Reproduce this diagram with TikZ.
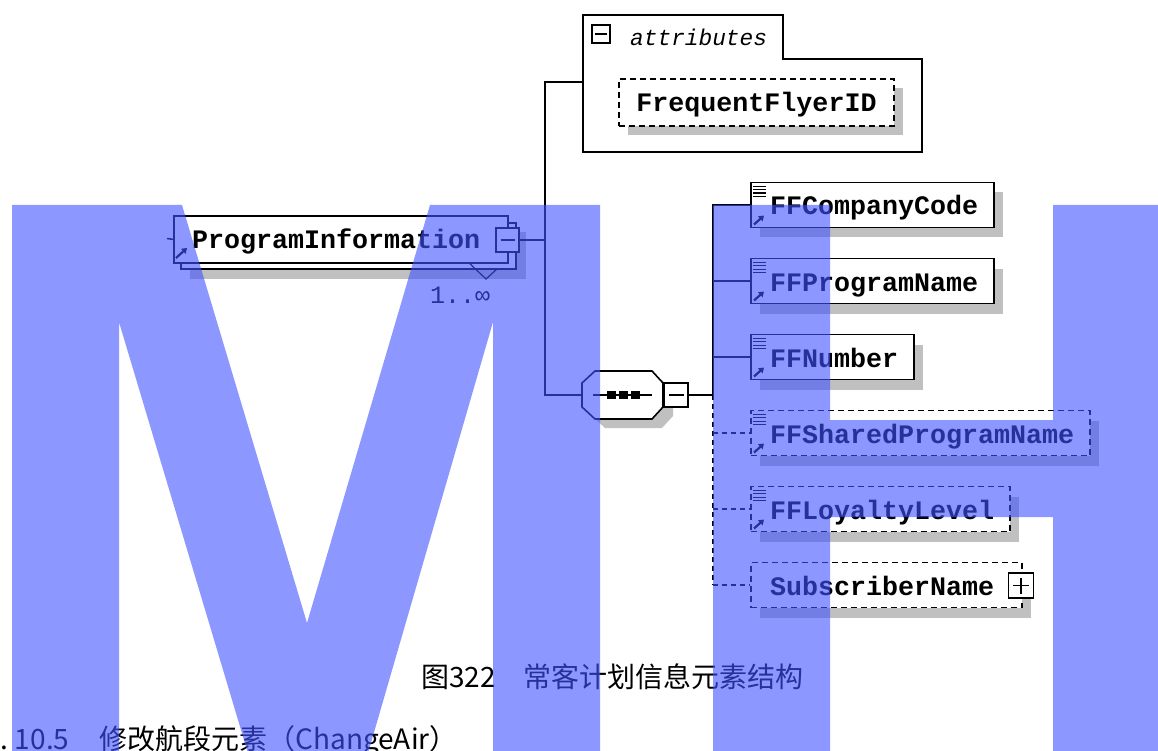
\documentclass[tikz,border=0pt]{standalone}
\usepackage{fontspec}
\usetikzlibrary{arrows.meta}
\newfontfamily\monofont{Liberation Mono}
\newfontfamily\cjkfont{Noto Sans CJK SC}
\definecolor{shadowgray}{RGB}{192,192,192}
\definecolor{wmblue}{RGB}{64,82,255}
\tikzset{
  ln/.style={draw=black, line width=1.5pt},
  dln/.style={ln, dash pattern=on 5pt off 4pt},
  elbox/.style={rectangle, draw=black, line width=1.7pt, fill=white, inner sep=0pt, minimum height=45pt},
  optbox/.style={elbox, dash pattern=on 6pt off 4pt},
  eltext/.style={anchor=base west, inner sep=0pt, font={\monofont\bfseries\fontsize{26.67pt}{30pt}\selectfont}},
  pmbox/.style={rectangle, draw=black, line width=1.6pt, fill=white, inner sep=0pt},
  icon/.style={line width=1.2pt, draw=black},
  refarrow/.style={line width=2.2pt, -{Triangle[length=5pt,width=6.5pt]}},
  cjktext/.style={anchor=base west, inner sep=0pt, font={\cjkfont\fontsize{28pt}{31pt}\selectfont}},
  wm/.style={fill=wmblue, fill opacity=0.6},
}
\newcommand{\elicons}[3]{%
  \foreach \dy in {4,7.3,10.6,14} {\draw[icon] (#1+3,#2+\dy) -- (#1+16,#2+\dy);}
  \draw[refarrow] (#1+4,#3-3) -- (#1+14,#3-12);
}
\begin{document}
\begin{tikzpicture}[x=1pt,y=-1pt]
\useasboundingbox (0,0) rectangle (1158,751);
\fill[white] (0,0) rectangle (1158,751);

% ---------- ProgramInformation ----------
\fill[shadowgray] (190,232) rectangle (526,279);
\draw[elbox] (181,223) rectangle (516,269);
\draw[line width=1.2pt] (468,262) -- (486,279) -- (497,269);
\node[elbox, minimum width=334pt, minimum height=47pt, anchor=north west] (pi) at (173,215) {};
\node[pmbox, minimum width=23pt, minimum height=24pt] (pim) at (507.5,240) {};
\draw[ln] ([xshift=-7pt]pim.center) -- ([xshift=7pt]pim.center);
\coordinate (pistub) at (167,238.5);
\draw[ln] (pistub) -- (pi.west);
\draw[refarrow] (176,258) -- (187,248);
\node[eltext] (pit) at (192,248.5) {ProgramInformation};
\node[anchor=base west, inner sep=0pt, font={\monofont\fontsize{25pt}{28pt}\selectfont}] (occ) at (430,303) {1..∞};

% ---------- attributes ----------
\draw[ln, line width=1.7pt] (583,15) -- (783,15) -- (783,59) -- (922,59) -- (922,152) -- (583,152) -- cycle;
\coordinate (attrL) at (583,82);
\node[pmbox, minimum width=18pt, minimum height=18pt] (attm) at (601,34) {};
\draw[ln] ([xshift=-6pt]attm.center) -- ([xshift=6pt]attm.center);
\node[anchor=base west, inner sep=0pt, font={\monofont\itshape\fontsize{22.8pt}{26pt}\selectfont}] (attt) at (630,46) {attributes};
\fill[shadowgray] (628,88) rectangle (903,135);
\node[optbox, minimum width=275pt, minimum height=47pt, anchor=north west] (ffid) at (618,78) {};
\node[eltext, anchor=base] (ffidt) at (756.5,112) {FrequentFlyerID};

% ---------- sequence compositor ----------
\fill[shadowgray] (592,392) -- (605,380) -- (662,380) -- (673,392) -- (673,416) -- (662,428) -- (605,428) -- (592,416) -- cycle;
\draw[ln, line width=1.6pt, fill=white] (582,383) -- (595,371) -- (652,371) -- (663,383) -- (663,407) -- (652,419) -- (595,419) -- (582,407) -- cycle;
\coordinate (seqL) at (582,395);
\draw[line width=1.4pt] (593,395) -- (652,395);
\fill[black] (607,391) rectangle (616,399);
\fill[black] (619,391) rectangle (628,399);
\fill[black] (631,391) rectangle (640,399);
\node[pmbox, minimum width=24pt, minimum height=24pt] (seqm) at (676,395) {};
\draw[ln] ([xshift=-7.5pt]seqm.center) -- ([xshift=7.5pt]seqm.center);

% ---------- connectors left ----------
\coordinate (j0) at (545,82);
\coordinate (j1) at (545,240);
\coordinate (j2) at (545,395);
\draw[ln] (pim.east) -- (j1);
\draw[ln] (attrL) -- (j0) -- (j2) -- (seqL);

% ---------- children ----------
\fill[shadowgray] (760,192.5) rectangle (1003,237.5);
\node[elbox, minimum width=243pt, anchor=west] (e1) at (750,205) {};
\elicons{750}{182.5}{227.5}
\node[eltext] (e1t) at (770,215) {FFCompanyCode};

\fill[shadowgray] (760,268.5) rectangle (1003,313.5);
\node[elbox, minimum width=243pt, anchor=west] (e2) at (750,281) {};
\elicons{750}{258.5}{303.5}
\node[eltext] (e2t) at (770,291) {FFProgramName};

\fill[shadowgray] (760,344.5) rectangle (923,389.5);
\node[elbox, minimum width=163pt, anchor=west] (e3) at (750,357) {};
\elicons{750}{334.5}{379.5}
\node[eltext] (e3t) at (770,367) {FFNumber};

\fill[shadowgray] (760,420.5) rectangle (1099,465.5);
\node[optbox, minimum width=339pt, anchor=west] (e4) at (750,433) {};
\elicons{750}{410.5}{455.5}
\node[eltext] (e4t) at (770,443) {FFSharedProgramName};

\fill[shadowgray] (760,496.5) rectangle (1019,541.5);
\node[optbox, minimum width=259pt, anchor=west] (e5) at (750,509) {};
\elicons{750}{486.5}{531.5}
\node[eltext] (e5t) at (770,519) {FFLoyaltyLevel};

\fill[shadowgray] (760,572.5) rectangle (1031,617.5);
\node[optbox, minimum width=271pt, anchor=west] (e6) at (750,585) {};
\node[eltext] (e6t) at (770,595) {SubscriberName};
\node[pmbox, minimum width=25pt, minimum height=25pt] (e6p) at (1021,585.5) {};
\draw[ln] ([xshift=-8pt]e6p.center) -- ([xshift=8pt]e6p.center);
\draw[ln] ([yshift=-8pt]e6p.center) -- ([yshift=8pt]e6p.center);

% ---------- bus ----------
\coordinate (bm) at (713,395);
\coordinate (b1) at (713,205);
\coordinate (b2) at (713,281);
\coordinate (b3) at (713,357);
\coordinate (b4) at (713,433);
\coordinate (b5) at (713,509);
\coordinate (b6) at (713,585);
\draw[ln] (seqm.east) -- (bm);
\draw[ln] (e1.west) -- (b1) -- (bm);
\draw[dln] (bm) -- (b6);
\draw[ln] (b2) -- (e2.west);
\draw[ln] (b3) -- (e3.west);
\draw[dln] (b4) -- (e4.west);
\draw[dln] (b5) -- (e5.west);
\draw[dln] (b6) -- (e6.west);

% ---------- captions ----------
\node[cjktext] (cap) at (421,687) {图322　常客计划信息元素结构};
\node[cjktext] (sec) at (0,749) {.\hspace{7pt}10.5\hspace{2pt}　修改航段元素（ChangeAir）};

% ---------- watermark ----------
\fill[wm] (12,205) -- (182,205) -- (307,623) -- (430,205) -- (600,205) -- (600,760) -- (493,760) -- (493,322) -- (366,760) -- (250,760) -- (119,322) -- (119,760) -- (12,760) -- cycle;
\fill[wm] (713,205) -- (830,205) -- (830,420) -- (1053,420) -- (1053,205) -- (1170,205) -- (1170,760) -- (1053,760) -- (1053,517) -- (830,517) -- (830,760) -- (713,760) -- cycle;
\end{tikzpicture}
\end{document}
